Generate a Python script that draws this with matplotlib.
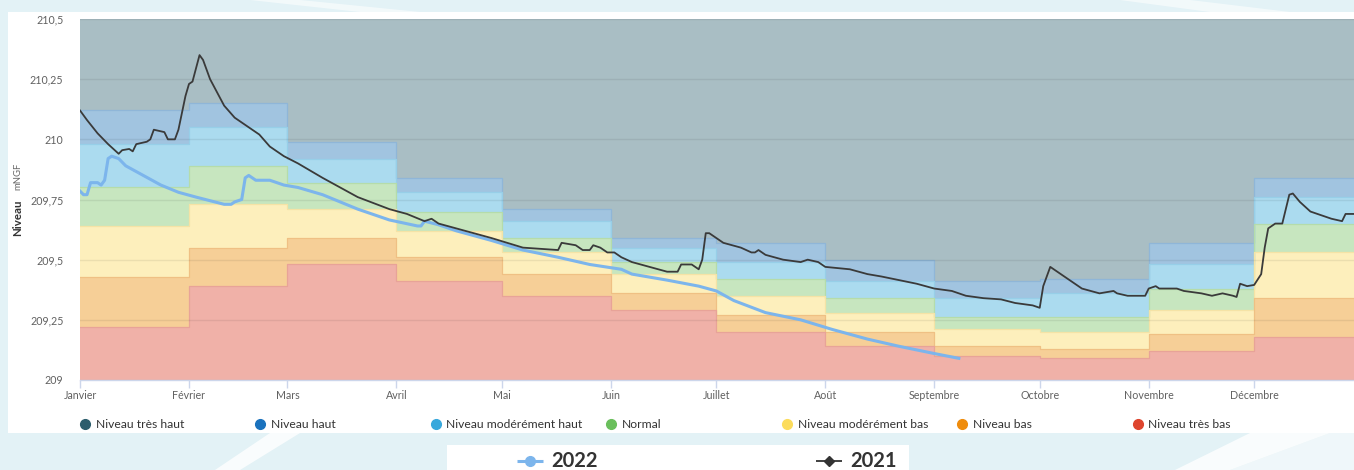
import matplotlib
matplotlib.use("Agg")
import matplotlib.pyplot as plt
from matplotlib.patches import Rectangle, Polygon

# ---------------- data ----------------
months = ["Janvier", "Février", "Mars", "Avril", "Mai", "Juin", "Juillet",
          "Août", "Septembre", "Octobre", "Novembre", "Décembre"]
month_start = [0, 31, 59, 90, 120, 151, 181, 212, 243, 273, 304, 334]
year_end = 365

y_ticks = [209, 209.25, 209.5, 209.75, 210, 210.25, 210.5]
y_tick_labels = ["209", "209,25", "209,5", "209,75", "210", "210,25", "210,5"]

# monthly upper limits of each level band (mNGF)
tres_bas_top = [209.22, 209.39, 209.48, 209.41, 209.35, 209.29, 209.20, 209.14, 209.10, 209.09, 209.12, 209.18]
bas_top      = [209.43, 209.55, 209.59, 209.51, 209.44, 209.36, 209.27, 209.20, 209.14, 209.13, 209.19, 209.34]
mod_bas_top  = [209.64, 209.73, 209.71, 209.62, 209.53, 209.44, 209.35, 209.28, 209.21, 209.20, 209.29, 209.53]
normal_top   = [209.80, 209.89, 209.82, 209.70, 209.59, 209.49, 209.42, 209.34, 209.26, 209.26, 209.38, 209.65]
mod_haut_top = [209.98, 210.05, 209.92, 209.78, 209.66, 209.55, 209.49, 209.41, 209.34, 209.36, 209.48, 209.76]
haut_top     = [210.12, 210.15, 209.99, 209.84, 209.71, 209.59, 209.57, 209.50, 209.41, 209.42, 209.57, 209.84]
tres_haut_top = [210.5] * 12
floor_level = [209.0] * 12

band_names = ["Niveau très haut", "Niveau haut", "Niveau modérément haut", "Normal",
              "Niveau modérément bas", "Niveau bas", "Niveau très bas"]
band_fill = ["#a9bec4", "#a1c4e0", "#abdbef", "#c7e6bf", "#fdefbc", "#f6cf97", "#f0b1a8"]
band_edge = ["#98b0b8", "#8fb6d8", "#97cfe8", "#b5dcaa", "#f5e3a6", "#efc084", "#e8a398"]
legend_colors = ["#2c5d6c", "#1b72bd", "#38a8dc", "#6abf5c", "#fcdc5c", "#ef8c0c", "#de452e"]

# 2022 series (day of year, level)
days_2022 = [0, 1, 2, 3, 5, 6, 7, 8, 9, 11, 13, 18, 23, 28, 33, 37, 41, 43, 44, 46, 47, 48,
             50, 54, 58, 62, 69, 79, 88, 96, 97, 98, 102, 107, 117, 126, 136, 145, 154,
             157, 167, 176, 181, 186, 195, 205, 214, 224, 233, 243, 250]
level_2022 = [209.785, 209.77, 209.77, 209.82, 209.82, 209.81, 209.83, 209.92, 209.93, 209.92,
              209.89, 209.85, 209.81, 209.78, 209.76, 209.745, 209.73, 209.73, 209.74, 209.75,
              209.84, 209.85, 209.83, 209.83, 209.81, 209.80, 209.77, 209.71, 209.665, 209.64,
              209.64, 209.66, 209.645, 209.62, 209.58, 209.54, 209.51, 209.48, 209.46, 209.44,
              209.415, 209.39, 209.37, 209.33, 209.28, 209.25, 209.21, 209.17, 209.14, 209.11,
              209.09]

# 2021 series (day of year, level)
days_2021 = [0, 2, 5, 8, 11, 12, 14, 15, 16, 19, 20, 21, 24, 25, 27, 28, 30, 31, 32, 34, 35,
             37, 41, 44, 47, 51, 54, 58, 62, 69, 79, 88, 93, 98, 100, 102, 107, 117, 126, 136,
             137, 141, 143, 145, 146, 148, 150, 152, 154, 157, 167, 170, 171, 174, 176, 177,
             178, 179, 183, 188, 191, 192, 193, 195, 200, 205, 207, 210, 212, 219, 224, 228,
             233, 238, 243, 248, 252, 257, 262, 266, 271, 273, 274, 276, 277, 281, 285, 290,
             294, 295, 298, 300, 303, 304, 306, 307, 312, 314, 319, 322, 325, 328, 329, 330,
             332, 334, 336, 337, 338, 340, 342, 344, 345, 347, 350, 352, 356, 359, 360, 363]
level_2021 = [210.12, 210.08, 210.025, 209.98, 209.94, 209.955, 209.96, 209.95, 209.98, 209.99,
              210.0, 210.04, 210.03, 210.0, 210.0, 210.04, 210.18, 210.23, 210.24, 210.35, 210.33,
              210.25, 210.14, 210.09, 210.06, 210.02, 209.97, 209.93, 209.90, 209.84, 209.76,
              209.71, 209.69, 209.66, 209.67, 209.65, 209.63, 209.59, 209.55, 209.54, 209.57,
              209.56, 209.54, 209.54, 209.56, 209.55, 209.53, 209.53, 209.51, 209.49, 209.45,
              209.45, 209.48, 209.48, 209.46, 209.50, 209.61, 209.61, 209.57, 209.55, 209.53,
              209.53, 209.54, 209.52, 209.50, 209.49, 209.50, 209.49, 209.47, 209.46, 209.44,
              209.43, 209.415, 209.40, 209.38, 209.37, 209.35, 209.34, 209.335, 209.32, 209.31,
              209.30, 209.39, 209.47, 209.46, 209.42, 209.38, 209.36, 209.37, 209.36, 209.35,
              209.35, 209.35, 209.38, 209.39, 209.38, 209.38, 209.37, 209.36, 209.35, 209.36,
              209.35, 209.345, 209.40, 209.39, 209.395, 209.44, 209.55, 209.63, 209.65, 209.65,
              209.77, 209.775, 209.74, 209.70, 209.69, 209.67, 209.66, 209.69, 209.69]

# ---------------- figure ----------------
W, H = 1354, 470
fig = plt.figure(figsize=(W / 100, H / 100), dpi=100)
fig.patch.set_facecolor("#e3f2f6")

bg = fig.add_axes([0, 0, 1, 1], zorder=0)
bg.set_xlim(0, W)
bg.set_ylim(H, 0)
bg.axis("off")
# background swooshes
bg.add_patch(Polygon([(250, 0), (300, 0), (420, 12), (360, 12)], closed=True,
                     facecolor="white", alpha=0.55, lw=0))
bg.add_patch(Polygon([(1120, 0), (1190, 0), (1290, 12), (1210, 12)], closed=True,
                     facecolor="white", alpha=0.55, lw=0))
bg.add_patch(Polygon([(215, 470), (240, 470), (300, 433), (270, 433)], closed=True,
                     facecolor="white", alpha=0.8, lw=0))
bg.add_patch(Polygon([(1175, 470), (1230, 470), (1330, 433), (1250, 433)], closed=True,
                     facecolor="white", alpha=0.8, lw=0))
bg.add_patch(Polygon([(1230, 470), (1354, 470), (1354, 433), (1330, 433)], closed=True,
                     facecolor="white", alpha=0.45, lw=0))
# white panels
bg.add_patch(Rectangle((8, 12), W - 8, 421, facecolor="white", lw=0))
bg.add_patch(Rectangle((447, 445), 462, 30, facecolor="white", lw=0))

# top legend (bands)
leg_x0, leg_dx, leg_y = 84.5, 175.5, 424
for i, (name, col) in enumerate(zip(band_names, legend_colors)):
    x = leg_x0 + i * leg_dx
    bg.plot([x], [leg_y], marker="o", ms=7, color=col, mec=col)
    bg.text(x + 11, leg_y, name, fontsize=8.7, family="Lato", color="#333333",
            va="center", ha="left")

# bottom legend (years)
bg.plot([517, 543], [460.5, 460.5], color="#7cb5ec", lw=2.2, solid_capstyle="butt")
bg.plot([530], [460.5], marker="o", ms=7, color="#7cb5ec")
bg.text(551, 461, "2022", fontsize=14.5, family="Lato", weight="bold",
        color="#333333", va="center", ha="left")
bg.plot([816, 842], [460.5, 460.5], color="#333333", lw=1.3, solid_capstyle="butt")
bg.plot([829], [460.5], marker="D", ms=5.5, color="#333333")
bg.text(850, 461, "2021", fontsize=14.5, family="Lato", weight="bold",
        color="#333333", va="center", ha="left")

# y-axis title
fig.text(18 / W, 1 - 218 / H, "Niveau", rotation=90, fontsize=8.3, weight="bold",
         family="Lato", color="#333333", ha="center", va="center")
fig.text(18 / W, 1 - 176 / H, "mNGF", rotation=90, fontsize=6.8,
         family="Lato", color="#666666", ha="center", va="center")

# ---------------- main chart ----------------
ax = fig.add_axes([80 / W, (H - 380) / H, (W - 80) / W, 361 / H], zorder=1)
ax.set_facecolor("none")

xs = month_start + [year_end]
stack = [tres_haut_top, haut_top, mod_haut_top, normal_top, mod_bas_top, bas_top,
         tres_bas_top, floor_level]
for i in range(7):
    upper = stack[i] + [stack[i][-1]]
    lower = stack[i + 1] + [stack[i + 1][-1]]
    ax.fill_between(xs, lower, upper, step="post", facecolor=band_fill[i],
                    lw=0, zorder=1)
    if i > 0:
        ax.step(xs, upper, where="post", color=band_edge[i], lw=0.9, zorder=1.5)

for yv in y_ticks:
    ax.axhline(yv, color=(0, 0, 0, 0.07), lw=1, zorder=2)

ax.plot(days_2022, level_2022, color="#7cb5ec", lw=2.2, zorder=4,
        solid_joinstyle="round")
ax.plot(days_2021, level_2021, color="#3a3a3a", lw=1.3, zorder=5,
        solid_joinstyle="round")

ax.set_xlim(0, 362.4)
ax.set_ylim(209, 210.5)
ax.set_yticks(y_ticks)
ax.set_yticklabels(y_tick_labels)
ax.set_xticks(month_start)
ax.set_xticklabels(months)
for s in ["top", "right", "left"]:
    ax.spines[s].set_visible(False)
ax.spines["bottom"].set_color("#ccd6eb")
ax.spines["bottom"].set_linewidth(1)
ax.tick_params(axis="y", length=0, pad=12, labelsize=7.7, labelcolor="#606060")
ax.tick_params(axis="x", length=6, width=1, color="#ccd6eb", pad=1,
               labelsize=7.7, labelcolor="#606060")
for lab in ax.get_xticklabels() + ax.get_yticklabels():
    lab.set_family("Lato")

fig.savefig("out.png", dpi=100, facecolor=fig.get_facecolor())
